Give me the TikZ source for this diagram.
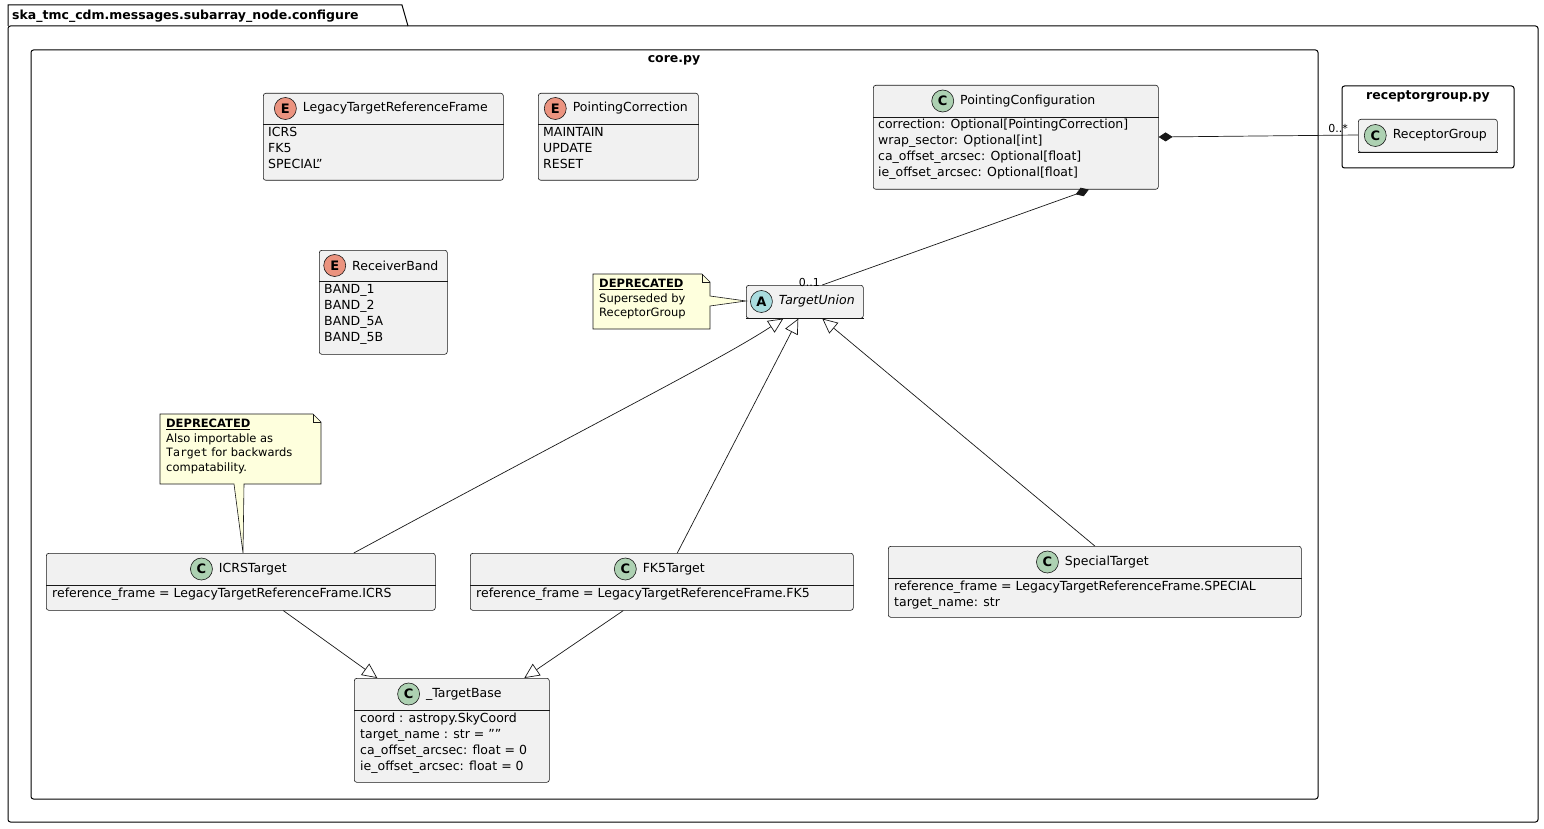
\documentclass[tikz,border=0pt]{standalone}
\usepackage{fontspec}
\setmainfont{DejaVu Sans}
\setmonofont{DejaVu Sans Mono}
\usetikzlibrary{arrows.meta}
\definecolor{clsfill}{HTML}{F1F1F1}
\definecolor{clsline}{HTML}{181818}
\definecolor{cgreen}{HTML}{ADD1B2}
\definecolor{eorange}{HTML}{EB937F}
\definecolor{acyan}{HTML}{A9DCDF}
\definecolor{notefill}{HTML}{FEFFDD}
\tikzset{
  cls/.style={draw=clsline,fill=clsfill,rounded corners=2.5pt,line width=0.6pt,inner sep=0pt},
  ico/.style={circle,draw=clsline,line width=0.6pt,minimum size=22pt,inner sep=0pt,font=\fontsize{13}{13}\selectfont\bfseries},
  ttl/.style={font=\fontsize{12.5}{16}\selectfont,inner sep=0pt},
  att/.style={font=\fontsize{12.5}{16}\selectfont,align=left,inner sep=0pt,anchor=north west},
  pkg/.style={draw=black,line width=1pt,rounded corners=2.5pt},
  conn/.style={draw=clsline,line width=0.7pt},
  inh/.style={conn,-{Triangle[open,length=15pt,width=14pt]}},
  comp/.style={conn,{Diamond[length=14pt,width=9pt]}-},
  note/.style={draw=clsline,fill=notefill,line width=0.6pt},
  notetxt/.style={font=\fontsize{11.5}{14.5}\selectfont,align=left,inner sep=0pt,anchor=north west},
  lbl/.style={font=\fontsize{11}{11}\selectfont,inner sep=0pt},
}
% name, x, y, w, h, header height, letter, colour, title
\newcommand\umlcls[9]{%
  \node[cls,minimum width=#4pt,minimum height=#5pt,anchor=north west] (#1) at (#2,#3) {};
  \draw[clsline,line width=0.6pt] ([yshift=-#6pt]#1.north west) -- ([yshift=-#6pt]#1.north east);
  \node[ttl] (#1t) at ([xshift=12pt,yshift=-#6pt/2]#1.north) {#9};
  \node[ico,fill=#8,anchor=east] (#1i) at ([xshift=-6pt]#1t.west) {#7};
}
\begin{document}
\begin{tikzpicture}[x=1pt,y=-1pt]
\useasboundingbox (0,0) rectangle (1544,829);
% packages
\draw[line width=1pt] (8,26) -- (8,5) -- (402,5) -- (408,26);
\draw[pkg] (8,26) rectangle (1538,822);
\node[anchor=west,inner sep=0pt,font=\fontsize{12.5}{14}\selectfont\bfseries] (pkgt) at (12,16) {ska\_tmc\_cdm.messages.subarray\_node.configure};
\draw[pkg] (31,50) rectangle (1318,799);
\node[inner sep=0pt,font=\fontsize{12.5}{14}\selectfont\bfseries] (coret) at (674,60) {core.py};
\draw[pkg] (1342,86) rectangle (1514,168);
\node[inner sep=0pt,font=\fontsize{12.5}{14}\selectfont\bfseries] (rgt) at (1428,96) {receptorgroup.py};

\umlcls{rg}{1358}{119}{139}{33}{33}{C}{cgreen}{ReceptorGroup}
\umlcls{pc}{873}{85}{285}{104}{32}{C}{cgreen}{PointingConfiguration}
\node[att] (pca) at (878,119) {correction: Optional[PointingCorrection]\\wrap\_sector: Optional[int]\\ca\_offset\_arcsec: Optional[float]\\ie\_offset\_arcsec: Optional[float]};
\umlcls{ltrf}{263}{93}{240}{87}{31}{E}{eorange}{LegacyTargetReferenceFrame}
\node[att] (ltrfa) at (268,127) {ICRS\\FK5\\SPECIAL"};
\umlcls{pcor}{538}{93}{160}{87}{31}{E}{eorange}{PointingCorrection}
\node[att] (pcora) at (543,127) {MAINTAIN\\UPDATE\\RESET};
\umlcls{rb}{319}{250}{128}{104}{31}{E}{eorange}{ReceiverBand}
\node[att] (rba) at (324,284) {BAND\_1\\BAND\_2\\BAND\_5A\\BAND\_5B};
\umlcls{tu}{746}{285}{117}{33}{33}{A}{acyan}{\itshape TargetUnion}
\umlcls{icrs}{46}{553}{389}{57}{32}{C}{cgreen}{ICRSTarget}
\node[att] (icrsa) at (52,588) {reference\_frame = LegacyTargetReferenceFrame.ICRS};
\umlcls{fk5}{470}{553}{383}{57}{32}{C}{cgreen}{FK5Target}
\node[att] (fk5a) at (476,588) {reference\_frame = LegacyTargetReferenceFrame.FK5};
\umlcls{sp}{888}{546}{413}{71}{32}{C}{cgreen}{SpecialTarget}
\node[att] (spa) at (894,581) {reference\_frame = LegacyTargetReferenceFrame.SPECIAL\\target\_name: str};
\umlcls{tb}{354}{678}{195}{104}{32}{C}{cgreen}{\_TargetBase}
\node[att] (tba) at (360,713) {coord : astropy.SkyCoord\\target\_name : str = ""\\ca\_offset\_arcsec: float = 0\\ie\_offset\_arcsec: float = 0};

% notes
\coordinate (n1tip) at (746,301);
\draw[note] (593,274) -- (702,274) -- (710,282) -- (710,296) -- (n1tip) -- (710,306) -- (710,329) -- (593,329) -- cycle;
\draw[clsline,line width=0.6pt] (702,274) -- (702,282) -- (710,282);
\node[notetxt] (n1) at (599,279) {\underline{\textbf{DEPRECATED}}\\Superseded by\\ReceptorGroup};
\coordinate (n2tip) at (243,553);
\draw[note] (160,414) -- (313,414) -- (321,422) -- (321,484) -- (244,484) -- (n2tip) -- (234,484) -- (160,484) -- cycle;
\draw[clsline,line width=0.6pt] (313,414) -- (313,422) -- (321,422);
\node[notetxt] (n2) at (166,419) {\underline{\textbf{DEPRECATED}}\\Also importable as\\\texttt{Target} for backwards\\compatability.};

% connectors
\draw[comp] ([xshift=73pt]pc.south) -- node[pos=0.97,lbl,anchor=east,xshift=-10pt] (l01) {0..1} ([xshift=17.5pt]tu.north);
\draw[comp] ([yshift=-52pt]pc.north east) -- ([yshift=-16pt]rg.north west);
\node[lbl] (l0s) at (1338,128) {0..*};
\draw[inh] ([xshift=113pt]icrs.north) .. controls (600,420) and (720,360) .. ([xshift=-21.5pt]tu.south);
\draw[inh] ([xshift=15.5pt]fk5.north) -- ([xshift=-6.5pt]tu.south);
\draw[inh] (sp.north) -- ([xshift=17.5pt]tu.south);
\draw[inh] ([xshift=42.5pt]icrs.south) -- ([xshift=-74.5pt]tb.north);
\draw[inh] ([xshift=-38.5pt]fk5.south) -- ([xshift=72.5pt]tb.north);
\end{tikzpicture}
\end{document}
